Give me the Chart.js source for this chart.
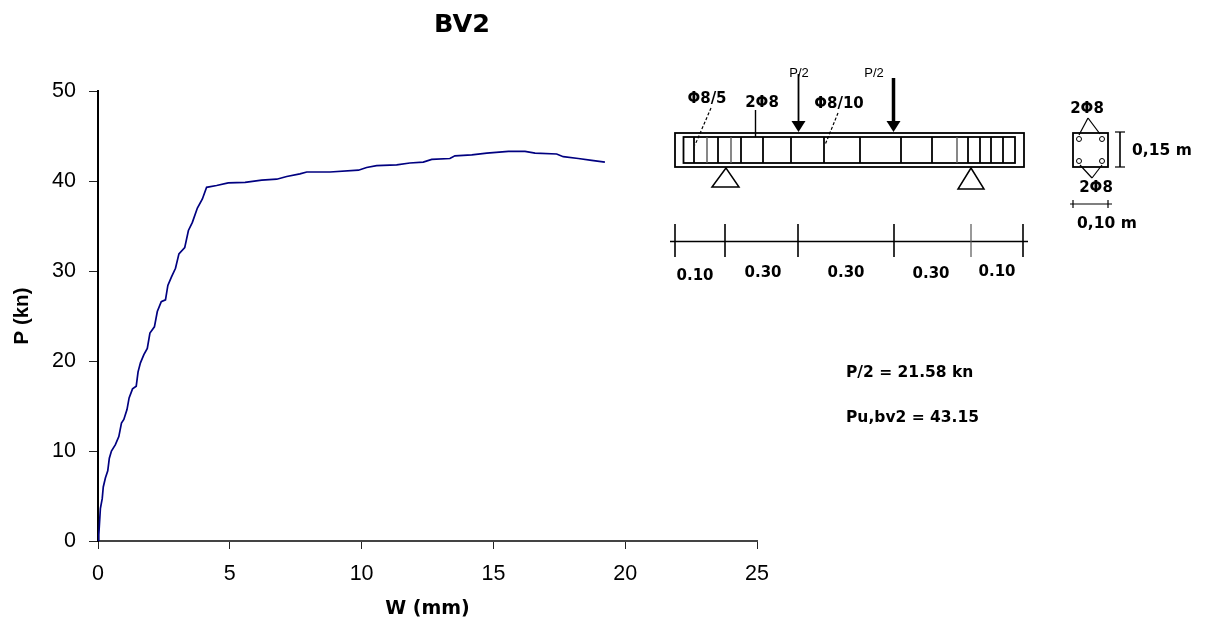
<!DOCTYPE html>
<html>
<head>
<meta charset="utf-8">
<title>BV2</title>
<script src="https://cdn.jsdelivr.net/npm/chart.js@4"></script>
<style>
html, body { margin: 0; padding: 0; background: #fff; }
canvas { display: block; filter: blur(0.4px); }
</style>
</head>
<body>
<canvas id="chart" width="1205" height="622"></canvas>
<script>
var deflection = [0, 0.03, 0.09, 0.16, 0.2, 0.28, 0.37, 0.43, 0.51, 0.66, 0.79, 0.89, 0.98, 1.1, 1.18, 1.31, 1.45, 1.52, 1.61, 1.74, 1.87, 1.97, 2.14, 2.25, 2.4, 2.56, 2.65, 2.78, 2.94, 3.07, 3.29, 3.43, 3.58, 3.77, 3.96, 4.12, 4.5, 4.94, 5.58, 6.21, 6.78, 7.16, 7.66, 7.92, 8.8, 9.88, 10.19, 10.57, 11.33, 11.83, 12.34, 12.66, 13.35, 13.54, 14.18, 14.75, 15.57, 16.2, 16.58, 17.4, 17.65, 18.22, 18.73, 19.23];
var load = [0, 0.67, 3.6, 4.7, 6, 7, 7.8, 9.2, 10, 10.7, 11.6, 13.1, 13.5, 14.6, 15.9, 16.9, 17.2, 18.8, 19.8, 20.7, 21.4, 23.1, 23.8, 25.5, 26.6, 26.8, 28.4, 29.3, 30.3, 31.9, 32.6, 34.5, 35.4, 37, 38, 39.3, 39.5, 39.8, 39.85, 40.1, 40.2, 40.5, 40.8, 41, 41, 41.2, 41.5, 41.7, 41.8, 42, 42.1, 42.4, 42.5, 42.8, 42.9, 43.1, 43.3, 43.3, 43.1, 43, 42.7, 42.5, 42.3, 42.1];
var points = deflection.map(function (w, i) { return { x: w, y: load[i] }; });

var titleText = 'BV2';
var xTitle = 'W (mm)';
var yTitle = 'P (kn)';

// beam sketch next to the plot, in canvas pixels
var stirrups = [694, 718, 741, 763, 791, 824, 860, 901, 932, 968, 980, 991, 1003];
var lightStirrups = [707, 731, 957];
var dimTicks = [675, 725, 798, 894, 1023];

function line(c, x1, y1, x2, y2, w, col, dash) {
    c.save();
    c.strokeStyle = col || '#000';
    c.lineWidth = w || 1;
    c.setLineDash(dash || []);
    c.beginPath();
    c.moveTo(x1, y1);
    c.lineTo(x2, y2);
    c.stroke();
    c.restore();
}

function label(c, txt, x, y, font, align) {
    c.font = font;
    c.fillStyle = '#000';
    c.textAlign = align || 'center';
    c.textBaseline = 'middle';
    c.fillText(txt, x, y);
}

function triangle(c, ax, ay, lx, rx, by) {
    c.strokeStyle = '#000';
    c.lineWidth = 1.5;
    c.beginPath();
    c.moveTo(ax, ay);
    c.lineTo(lx, by);
    c.lineTo(rx, by);
    c.closePath();
    c.stroke();
}

function arrow(c, x, top, bottom, w) {
    line(c, x, top, x, bottom - 8, w);
    c.fillStyle = '#000';
    c.beginPath();
    c.moveTo(x - 7, bottom - 11);
    c.lineTo(x + 7, bottom - 11);
    c.lineTo(x, bottom);
    c.closePath();
    c.fill();
}

var sketch = {
    id: 'sketch',
    afterDraw: function (chart) {
        var c = chart.ctx;
        var note = 'bold 15px "DejaVu Sans"';
        var result = 'bold 15.5px "DejaVu Sans"';
        c.save();

        label(c, titleText, 462, 25, 'bold 25.5px "DejaVu Sans"');

        // beam
        c.strokeStyle = '#000';
        c.lineWidth = 1.8;
        c.strokeRect(675, 133, 349, 34);
        c.strokeRect(683.5, 137, 331.5, 26);
        stirrups.forEach(function (x) { line(c, x, 137, x, 163, 1.8); });
        lightStirrups.forEach(function (x) { line(c, x, 137, x, 163, 1.4, '#555'); });
        triangle(c, 726, 168, 712, 739, 187);
        triangle(c, 971, 168, 958, 984, 189);

        // loads
        arrow(c, 798.5, 74, 132, 1.8);
        arrow(c, 893.5, 78, 132, 3.5);
        label(c, 'P/2', 799, 73, '13px "Liberation Sans"');
        label(c, 'P/2', 874, 73, '13px "Liberation Sans"');

        // reinforcement notes
        label(c, 'Φ8/5', 707, 99, note);
        label(c, '2Φ8', 762, 103, note);
        label(c, 'Φ8/10', 839, 104, note);
        line(c, 711, 108, 695, 145, 1.2, '#000', [3, 2]);
        line(c, 755.5, 110, 755.5, 137, 1.4);
        line(c, 838, 113, 825, 145, 1.2, '#000', [3, 2]);

        // span dimensions
        line(c, 670, 241.5, 1028, 241.5, 1.6);
        dimTicks.forEach(function (x) { line(c, x, 224, x, 257, 1.6); });
        line(c, 971, 224, 971, 257, 1.2, '#555');
        label(c, '0.10', 695, 276, note);
        label(c, '0.30', 763, 273, note);
        label(c, '0.30', 846, 273, note);
        label(c, '0.30', 931, 274, note);
        label(c, '0.10', 997, 272, note);

        // cross section
        c.lineWidth = 1.8;
        c.strokeRect(1073, 133, 35, 34);
        [[1079, 139], [1102, 139], [1079, 161], [1102, 161]].forEach(function (p) {
            c.lineWidth = 1;
            c.beginPath();
            c.arc(p[0], p[1], 2.5, 0, Math.PI * 2);
            c.stroke();
        });
        line(c, 1088, 118, 1079, 135, 1.2);
        line(c, 1088, 118, 1100, 134, 1.2);
        line(c, 1092, 178, 1080, 165, 1.2);
        line(c, 1092, 178, 1102, 165, 1.2);
        line(c, 1120, 132, 1120, 167, 1.6);
        line(c, 1115, 132, 1125, 132, 1.2);
        line(c, 1115, 167, 1125, 167, 1.2);
        line(c, 1070, 204, 1112, 204, 1.2);
        line(c, 1073, 200, 1073, 208, 1.2);
        line(c, 1108, 200, 1108, 208, 1.2);
        label(c, '2Φ8', 1087, 109, note);
        label(c, '2Φ8', 1096, 188, note);
        label(c, '0,15 m', 1132, 151, result, 'left');
        label(c, '0,10 m', 1077, 224, result, 'left');

        // results
        label(c, 'P/2 = 21.58 kn', 846, 373, result, 'left');
        label(c, 'Pu,bv2 = 43.15', 846, 418, result, 'left');
        c.restore();
    }
};

var ctx = document.getElementById('chart').getContext('2d');
var myChart = new Chart(ctx, {
    type: 'scatter',
    data: {
        datasets: [{
            data: points,
            showLine: true,
            borderColor: '#000080',
            borderWidth: 1.7,
            pointRadius: 0,
            tension: 0
        }]
    },
    options: {
        responsive: false,
        animation: false,
        layout: { padding: { left: 0, right: 448, top: 91, bottom: 0 } },
        plugins: { legend: { display: false }, title: { display: false }, tooltip: { enabled: false } },
        scales: {
            x: {
                type: 'linear',
                min: 0,
                max: 25,
                afterFit: function (s) { s.height = 81; },
                border: { color: '#444', width: 2 },
                grid: { drawOnChartArea: false, color: '#222', tickLength: 8 },
                ticks: { stepSize: 5, color: '#000', maxRotation: 0, padding: 12, font: { family: '"Liberation Sans"', size: 21.5 } },
                title: {
                    display: true,
                    text: xTitle,
                    color: '#000',
                    font: { family: '"DejaVu Sans"', size: 19, weight: 'bold' },
                    padding: { top: 0, bottom: 2 }
                }
            },
            y: {
                min: 0,
                max: 50,
                afterFit: function (s) { s.width = 98; },
                border: { color: '#000', width: 2 },
                grid: { drawOnChartArea: false, color: '#222', tickLength: 9 },
                ticks: { stepSize: 10, color: '#000', padding: 13, font: { family: '"Liberation Sans"', size: 21.5 } },
                title: {
                    display: true,
                    text: yTitle,
                    color: '#000',
                    font: { family: '"Liberation Sans"', size: 20.5, weight: 'bold' },
                    padding: { top: 10, bottom: 0 }
                }
            }
        }
    },
    plugins: [sketch]
});
</script>
</body>
</html>
